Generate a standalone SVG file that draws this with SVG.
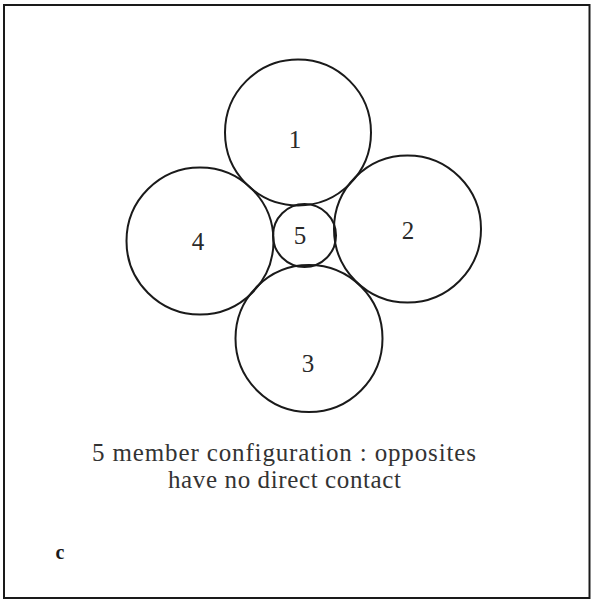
<svg xmlns="http://www.w3.org/2000/svg" width="591" height="601" viewBox="0 0 591 601">
<style>
.c{fill:none;stroke:#1a1a1a;stroke-width:2}
.n{font-family:"Liberation Serif","Times New Roman",serif;font-size:25px;fill:#2a2a2a;text-anchor:middle}
.t{font-family:"Liberation Serif","Times New Roman",serif;font-size:25px;fill:#333;text-anchor:middle}
</style>
<rect x="0" y="0" width="591" height="601" fill="#fff"/>
<rect x="4" y="5" width="585.5" height="593" fill="none" stroke="#1a1a1a" stroke-width="2"/>
<g id="node1"><circle class="c" cx="298" cy="132.5" r="73"/><text class="n" x="295" y="148">1</text></g>
<g id="node2"><circle class="c" cx="407.5" cy="229" r="73.5"/><text class="n" x="408" y="239">2</text></g>
<g id="node3"><circle class="c" cx="309" cy="338.5" r="73.5"/><text class="n" x="308" y="372">3</text></g>
<g id="node4"><circle class="c" cx="200" cy="241" r="73.5"/><text class="n" x="198" y="250">4</text></g>
<g id="node5"><circle class="c" cx="304.5" cy="235.5" r="31.5"/><text class="n" x="300" y="244">5</text></g>
<g id="connectors"></g>
<g id="caption">
<text class="t" x="284" y="461" textLength="384" lengthAdjust="spacing">5 member configuration : opposites</text>
<text class="t" x="284.5" y="488" textLength="233" lengthAdjust="spacing">have no direct contact</text>
</g>
<text x="60" y="559" font-family="Liberation Serif, serif" font-size="20" font-weight="bold" fill="#1a1a1a" text-anchor="middle">c</text>
</svg>
